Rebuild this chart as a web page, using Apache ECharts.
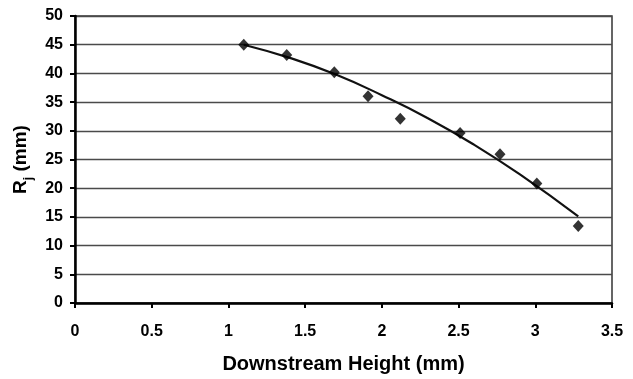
<!DOCTYPE html>
<html>
<head>
<meta charset="utf-8">
<script src="https://cdn.jsdelivr.net/npm/echarts@6/dist/echarts.min.js"></script>
<style>
  html, body { margin: 0; padding: 0; background: #fff; }
  #chart { width: 633px; height: 379px; }
</style>
</head>
<body>
<div id="chart"></div>
<script>
// Measured jet radius against downstream height
const heights = [1.10, 1.38, 1.69, 1.91, 2.12, 2.51, 2.77, 3.01, 3.28];
const radii   = [45.0, 43.2, 40.2, 36.0, 32.1, 29.6, 25.9, 20.8, 13.4];

// Polynomial trendline, sampled along the drawn curve
const trendX = [1.10, 1.40, 1.70, 2.00, 2.30, 2.60, 2.90, 3.28];
const trendY = [45.0, 42.7, 39.8, 36.2, 32.2, 27.6, 22.4, 15.1];

const xTicks = ['0', '0.5', '1', '1.5', '2', '2.5', '3', '3.5'];
const yTicks = ['0', '5', '10', '15', '20', '25', '30', '35', '40', '45', '50'];

const font = '"Liberation Sans", Arial, sans-serif';

const chart = echarts.init(document.getElementById('chart'), null, { renderer: 'canvas' });
chart.setOption({
  animation: false,
  backgroundColor: '#fff',
  grid: {
    left: 75, right: 21, top: 16, bottom: 75,
    show: true, borderColor: '#333', borderWidth: 1.5, backgroundColor: 'transparent'
  },
  xAxis: {
    type: 'value', min: 0, max: 3.5, interval: 0.5,
    name: 'Downstream Height (mm)',
    nameLocation: 'middle', nameGap: 51,
    nameTextStyle: { fontFamily: font, fontWeight: 'bold', fontSize: 20, color: '#000' },
    axisLine: { show: true, lineStyle: { color: '#000', width: 2.5 } },
    axisTick: { show: true, inside: false, length: 5, lineStyle: { color: '#000', width: 2 } },
    axisLabel: {
      margin: 21, fontFamily: font, fontWeight: 'bold', fontSize: 16, color: '#000',
      formatter: v => xTicks[Math.round(v / 0.5)]
    },
    splitLine: { show: false }
  },
  yAxis: {
    type: 'value', min: 0, max: 50, interval: 5,
    name: '{r|R}{s|j}{r| (mm)}',
    nameLocation: 'middle', nameGap: 44,
    nameTextStyle: {
      rich: {
        r: { fontFamily: font, fontWeight: 'bold', fontSize: 19, color: '#000', lineHeight: 22, verticalAlign: 'bottom' },
        s: { fontFamily: font, fontWeight: 'bold', fontSize: 12, color: '#000', lineHeight: 22, verticalAlign: 'bottom', padding: [0, 0, -4, 0] }
      }
    },
    axisLine: { show: true, lineStyle: { color: '#000', width: 2.5 } },
    axisTick: { show: true, inside: false, length: 5, lineStyle: { color: '#000', width: 2 } },
    axisLabel: {
      margin: 12, fontFamily: font, fontWeight: 'bold', fontSize: 16, color: '#000',
      formatter: v => yTicks[Math.round(v / 5)]
    },
    splitLine: { show: true, lineStyle: { color: '#4a4a4a', width: 1.4 } }
  },
  series: [
    {
      type: 'line',
      data: trendX.map((x, i) => [x, trendY[i]]),
      smooth: true,
      showSymbol: false,
      lineStyle: { color: '#111', width: 2.2 },
      z: 3
    },
    {
      type: 'scatter',
      data: heights.map((x, i) => [x, radii[i]]),
      symbol: 'diamond',
      symbolSize: [11, 12],
      itemStyle: { color: '#000' },
      z: 4
    }
  ]
});
</script>
</body>
</html>
